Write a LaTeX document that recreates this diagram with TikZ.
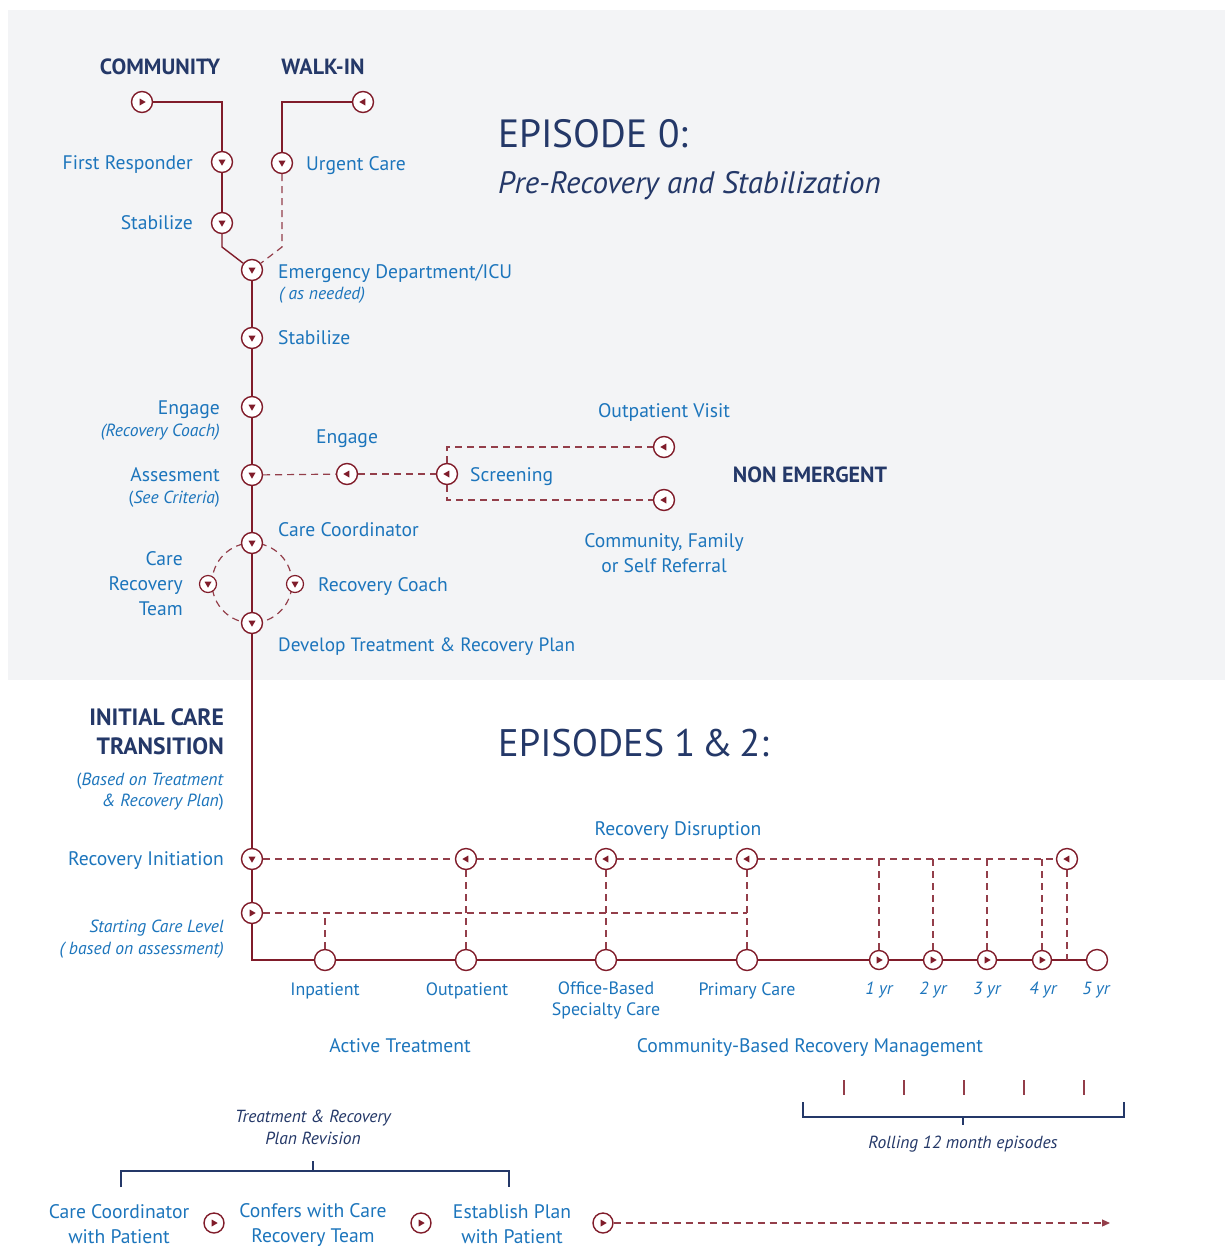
\documentclass[tikz,border=0pt]{standalone}
\usepackage{fontspec}
\setmainfont{PT Sans}
\usetikzlibrary{arrows.meta}

\definecolor{cred}{RGB}{128,28,42}
\definecolor{cblue}{RGB}{28,117,188}
\definecolor{cnavy}{RGB}{36,56,104}
\definecolor{cbg}{RGB}{243,244,246}

\begin{document}
\begin{tikzpicture}[x=1pt,y=-1pt,
  mk/.style={circle,draw=cred,fill=white,line width=1.4pt,minimum size=21pt,inner sep=0pt},
  mksm/.style={mk,minimum size=17pt,line width=1.2pt},
  mkyr/.style={mk,minimum size=19pt},
  tdown/.style={path picture={\fill[cred] (path picture bounding box.center) ++(-3.5,-2.3) -- ++(7,0) -- ++(-3.5,6) -- cycle;}},
  tright/.style={path picture={\fill[cred] (path picture bounding box.center) ++(-2.3,-3.5) -- ++(0,7) -- ++(6,-3.5) -- cycle;}},
  tleft/.style={path picture={\fill[cred] (path picture bounding box.center) ++(2.3,-3.5) -- ++(0,7) -- ++(-6,-3.5) -- cycle;}},
  sol/.style={draw=cred,line width=1.4pt},
  dsh/.style={draw=cred!85,line width=1.2pt,dash pattern=on 7pt off 5pt},
  brk/.style={draw=cnavy,line width=1.1pt},
  lbl/.style={text=cblue,inner sep=0pt,font=\fontsize{19.6}{25}\selectfont},
  lbls/.style={text=cblue,inner sep=0pt,font=\fontsize{17.9}{21}\selectfont},
  lbli/.style={text=cblue,inner sep=0pt,font=\fontsize{17.6}{21.5}\selectfont\itshape},
  head/.style={text=cnavy,inner sep=0pt,font=\fontsize{22}{29}\selectfont\bfseries},
  big/.style={text=cnavy,inner sep=0pt,font=\fontsize{39.4}{44}\selectfont},
  note/.style={text=cnavy,inner sep=0pt,font=\fontsize{17.5}{22}\selectfont\itshape},
  ml/.style={anchor=mid west,yshift=-5pt},
  mr/.style={anchor=mid east,yshift=-5pt},
  mc/.style={anchor=mid,yshift=-5pt}
]
\useasboundingbox (0,0) rectangle (1225,1248);
\clip (0,0) rectangle (1225,1248);
\fill[white] (0,0) rectangle (1225,1248);
\fill[cbg] (8,10) rectangle (1225,680);

% ---------- Episode 0 markers ----------
\node[mk,tright] (comm) at (142,102) {};
\node[mk,tleft]  (walk) at (363,102) {};
\node[mk,tdown]  (fr)   at (222,162) {};
\node[mk,tdown]  (uc)   at (282,163) {};
\node[mk,tdown]  (st1)  at (222,223) {};
\coordinate (j1) at (222,247);
\coordinate (j2) at (282,247);
\node[mk,tdown]  (ed)   at (252,270) {};
\node[mk,tdown]  (st2)  at (252,338) {};
\node[mk,tdown]  (eng)  at (252,407) {};
\node[mk,tdown]  (ass)  at (252,475) {};
\node[mk,tleft]  (engm) at (347,474) {};
\node[mk,tleft]  (scr)  at (447,474) {};
\node[mk,tleft]  (ov)   at (664,447) {};
\node[mk,tleft]  (cfr)  at (664,500) {};
\node[circle,dsh,minimum size=80pt,inner sep=0pt] (ring) at (252,583) {};
\node[mk,tdown]  (cc)   at (252,543) {};
\node[mk,tdown]  (dev)  at (252,623) {};
\node[mksm,tdown] (crt) at (208,584) {};
\node[mksm,tdown] (rc)  at (295,584) {};

% ---------- Episodes 1 & 2 markers ----------
\node[mk,tdown]  (ri)  at (252,859) {};
\node[mk,tright] (scl) at (252,913) {};
\node[mk,tleft]  (rd1) at (466,859) {};
\node[mk,tleft]  (rd2) at (606,859) {};
\node[mk,tleft]  (rd3) at (747,859) {};
\node[mk,tleft]  (rd4) at (1067,859) {};
\coordinate (corner) at (252,960);
\coordinate (sclend) at (747,913);
\node[mk] (inp)  at (325,960) {};
\node[mk] (outp) at (466,960) {};
\node[mk] (obs)  at (606,960) {};
\node[mk] (pc)   at (747,960) {};
\node[mkyr,tright] (y1) at (879,960) {};
\node[mkyr,tright] (y2) at (933,960) {};
\node[mkyr,tright] (y3) at (987,960) {};
\node[mkyr,tright] (y4) at (1042,960) {};
\node[mk] (y5) at (1097,960) {};

% ---------- connectors ----------
\draw[sol] (comm) -| (fr);
\draw[sol] (walk) -| (uc);
\draw[sol] (fr) -- (st1);
\draw[sol] (st1) -- (j1) -- (ed);
\draw[dsh] (uc) -- (j2) -- (ed);
\draw[sol] (ed) -- (st2);
\draw[sol] (st2) -- (eng);
\draw[sol] (eng) -- (ass);
\draw[sol] (ass) -- (cc);
\draw[sol] (cc) -- (dev);
\draw[sol] (dev) -- (ri);
\draw[sol] (ri) -- (scl);
\draw[sol] (scl) -- (corner) -- (inp);
\draw[sol] (inp) -- (outp);
\draw[sol] (outp) -- (obs);
\draw[sol] (obs) -- (pc);
\draw[sol] (pc) -- (y1);
\draw[sol] (y1) -- (y2);
\draw[sol] (y2) -- (y3);
\draw[sol] (y3) -- (y4);
\draw[sol] (y4) -- (y5);

\draw[dsh] (ass) -- (engm);
\draw[dsh] (engm) -- (scr);
\draw[dsh] (scr) |- (ov);
\draw[dsh] (scr) |- (cfr);

\draw[dsh] (ri) -- (rd1);
\draw[dsh] (rd1) -- (rd2);
\draw[dsh] (rd2) -- (rd3);
\draw[dsh] (rd3) -- (rd4);
\draw[dsh] (scl) -- (sclend);
\draw[dsh] (inp) -- (inp |- scl);
\draw[dsh] (rd1) -- (outp);
\draw[dsh] (rd2) -- (obs);
\draw[dsh] (rd3) -- (pc);
\draw[dsh] (y1) -- (y1 |- rd1);
\draw[dsh] (y2) -- (y2 |- rd1);
\draw[dsh] (y3) -- (y3 |- rd1);
\draw[dsh] (y4) -- (y4 |- rd1);
\draw[dsh] (rd4) -- (rd4 |- y5);

% ---------- Episode 0 text ----------
\node[head,mc] (tcomm) at (160,67) {COMMUNITY};
\node[head,mc] (twalk) at (323,67) {WALK-IN};
\node[lbl,mr] (tfr) at (193,162) {First Responder};
\node[lbl,ml] (tuc) at (306,163) {Urgent Care};
\node[lbl,mr] (tst1) at (193,222) {Stabilize};
\node[lbl,ml] (ted) at (278,271) {Emergency Department/ICU};
\node[lbli,ml,yshift=1pt] (tasn) at (279,293) {( as needed)};
\node[lbl,ml] (tst2) at (278,337) {Stabilize};
\node[lbl,mr] (teng) at (220,407) {Engage};
\node[lbli,mr,yshift=1pt] (trcoach) at (220,430) {(Recovery Coach)};
\node[lbl,mr] (tass) at (220,474) {Assesment};
\node[lbli,mr,yshift=1pt,font=\fontsize{17.5}{21}\selectfont] (tcrit) at (220,497) {(\textit{See Criteria})};
\node[lbl,mc] (tengm) at (347,436) {Engage};
\node[lbl,ml] (tscr) at (470,474) {Screening};
\node[lbl,mc] (tov) at (664,410) {Outpatient Visit};
\node[head,mc] (tne) at (810,475) {NON EMERGENT};
\node[lbl,align=center] (tcfr) at (664,553) {Community, Family\\or Self Referral};
\node[lbl,ml] (tcc) at (278,529) {Care Coordinator};
\node[lbl,ml] (trc) at (318,584) {Recovery Coach};
\node[lbl,align=right,anchor=east] (tcrt) at (183,584) {Care\\Recovery\\Team};
\node[lbl,ml,font=\fontsize{19.3}{25}\selectfont] (tdev) at (278,644) {Develop Treatment \& Recovery Plan};
\node[big,ml,yshift=-7pt] (tep0) at (498,133) {EPISODE 0:};
\node[big,ml,yshift=-3pt,font=\fontsize{31}{34}\selectfont\itshape] (tep0s) at (498,183) {Pre-Recovery and Stabilization};

% ---------- Episodes 1 & 2 text ----------
\node[head,align=right,anchor=east,font=\fontsize{23.6}{29}\selectfont\bfseries] (tict) at (224,732) {INITIAL CARE\\TRANSITION};
\node[lbl,align=right,anchor=east,font=\fontsize{17.6}{21}\selectfont] (tbasis) at (224,792) {(\textit{Based on Treatment}\\\textit{\& Recovery Plan})};
\node[big,ml,yshift=-7pt,font=\fontsize{38.4}{44}\selectfont] (tep12) at (498,742) {EPISODES 1\,\&\,2:};
\node[lbl,mc] (trd) at (678,828) {Recovery Disruption};
\node[lbl,mr] (tri) at (224,858) {Recovery Initiation};
\node[lbli,align=right,anchor=east] (tscl) at (224,939) {Starting Care Level\\( based on assessment)};
\node[lbls,mc] (tinp) at (325,988) {Inpatient};
\node[lbls,mc] (toutp) at (467,988) {Outpatient};
\node[lbls,align=center] (tobs) at (606,1000) {Office-Based\\Specialty Care};
\node[lbls,mc] (tpc) at (747,988) {Primary Care};
\node[lbli,mc,yshift=1pt] (ty1) at (879,988) {1 yr};
\node[lbli,mc,yshift=1pt] (ty2) at (933,988) {2 yr};
\node[lbli,mc,yshift=1pt] (ty3) at (987,988) {3 yr};
\node[lbli,mc,yshift=1pt] (ty4) at (1043,988) {4 yr};
\node[lbli,mc,yshift=1pt] (ty5) at (1096,988) {5 yr};
\node[lbl,mc] (tat) at (400,1045) {Active Treatment};
\node[lbl,mc] (tcbrm) at (810,1045) {Community-Based Recovery Management};

% ---------- rolling episodes ----------
\foreach \x in {844,904,964,1024,1084}
  \draw[draw=cred!85,line width=1.2pt] (\x,1080) -- (\x,1095);
\draw[brk] (803,1102) |- (1124,1117) -- (1124,1102);
\draw[brk] (963,1117) -- (963,1125);
\node[note,mc,yshift=1pt] (troll) at (963,1142) {Rolling 12 month episodes};

% ---------- plan revision ----------
\node[note,align=center] (trev) at (313,1127) {Treatment \& Recovery\\Plan Revision};
\draw[brk] (313,1161) -- (313,1171);
\draw[brk] (121,1187) |- (509,1171) -- (509,1187);
\node[lbl,align=center] (tb1) at (119,1224) {Care Coordinator\\with Patient};
\node[mk,tright,minimum size=20pt] (b1) at (214,1223) {};
\node[lbl,align=center] (tb2) at (313,1225) {Confers with Care\\Recovery Team};
\node[mk,tright,minimum size=20pt] (b2) at (421,1223) {};
\node[lbl,align=center] (tb3) at (512,1224) {Establish Plan\\with Patient};
\node[mk,tright,minimum size=20pt] (b3) at (603,1223) {};
\coordinate (bend) at (1110,1223);
\draw[dsh,-{Triangle[length=8pt,width=7pt]}] (b3) -- (bend);
\end{tikzpicture}
\end{document}
